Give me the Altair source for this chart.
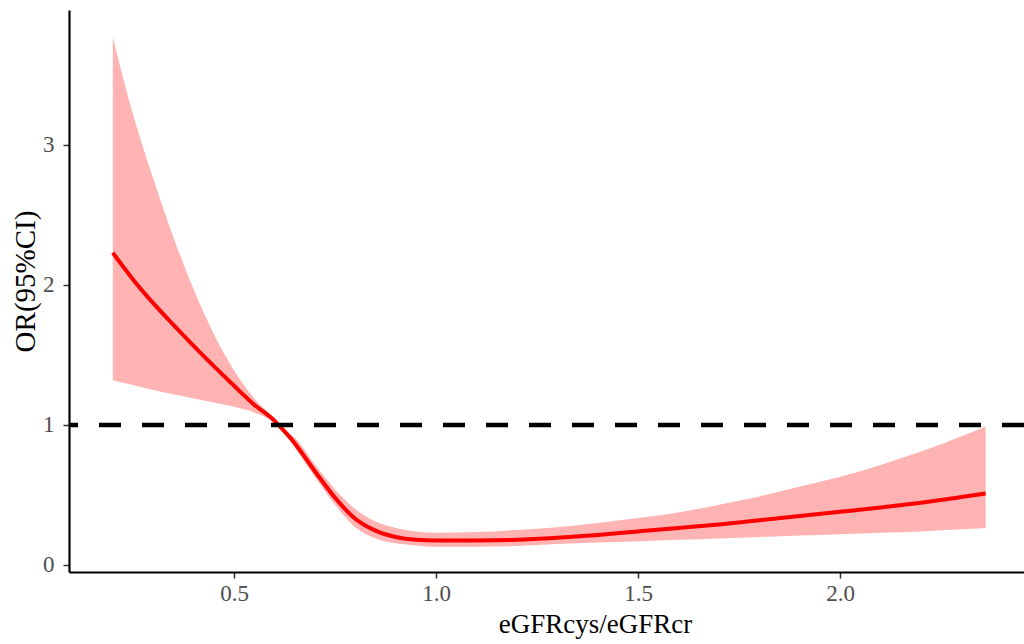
import altair as alt
import pandas as pd

# Values
ratio = [0.20, 0.25, 0.30, 0.35, 0.40, 0.45, 0.50, 0.55, 0.60, 0.61, 0.65, 0.70, 0.75,
         0.80, 0.85, 0.90, 0.95, 1.00, 1.10, 1.20, 1.30, 1.40, 1.50, 1.60, 1.70, 1.80,
         1.90, 2.00, 2.10, 2.20, 2.30, 2.36]
or_est = [2.23, 2.04, 1.87, 1.715, 1.565, 1.42, 1.28, 1.145, 1.03, 1.00, 0.87, 0.67, 0.48,
          0.33, 0.245, 0.20, 0.18, 0.175, 0.175, 0.18, 0.195, 0.215, 0.24, 0.265, 0.29, 0.32,
          0.35, 0.38, 0.41, 0.445, 0.485, 0.51]
or_upper = [3.77, 3.22, 2.76, 2.34, 1.97, 1.65, 1.39, 1.19, 1.04, 1.00, 0.91, 0.72, 0.54,
            0.40, 0.31, 0.265, 0.24, 0.23, 0.235, 0.25, 0.27, 0.30, 0.335, 0.375, 0.43, 0.49,
            0.56, 0.63, 0.715, 0.81, 0.92, 0.99]
or_lower = [1.32, 1.285, 1.25, 1.22, 1.19, 1.16, 1.13, 1.09, 1.02, 1.00, 0.84, 0.63, 0.43,
            0.27, 0.19, 0.155, 0.14, 0.13, 0.13, 0.135, 0.15, 0.16, 0.17, 0.18, 0.19, 0.20,
            0.21, 0.22, 0.23, 0.24, 0.255, 0.264]
ref_line = [1.0]
x_ticks = [0.5, 1.0, 1.5, 2.0]
y_ticks = [0, 1, 2, 3]

df = pd.DataFrame({"x": ratio, "y": or_est, "lo": or_lower, "hi": or_upper})
ref = pd.DataFrame({"y": ref_line})

FONT = "Liberation Serif"

xscale = alt.Scale(domain=[0.0916, 2.455], nice=False, zero=False)
yscale = alt.Scale(domain=[-0.05, 3.964], nice=False, zero=False)

xaxis = alt.Axis(values=x_ticks, format=".1f", title="eGFRcys/eGFRcr",
                 grid=False, domainColor="black", domainWidth=2.2,
                 tickColor="#333333", tickWidth=1.5, tickSize=6,
                 labelColor="#4d4d4d", labelFont=FONT, labelFontSize=23,
                 labelPadding=4, titleFont=FONT, titleFontSize=27,
                 titleFontWeight="normal", titleColor="black",
                 titleX=526, titleY=60, titleBaseline="alphabetic")
yaxis = alt.Axis(values=y_ticks, format="d", title="OR(95%CI)",
                 grid=False, domainColor="black", domainWidth=2.2,
                 tickColor="#333333", tickWidth=1.5, tickSize=6,
                 labelColor="#4d4d4d", labelFont=FONT, labelFontSize=23,
                 labelPadding=9, titleFont=FONT, titleFontSize=29,
                 titleFontWeight="normal", titleColor="black",
                 titleX=-44, titleY=271, titleBaseline="middle", titleAngle=270)

band = alt.Chart(df).mark_area(color="#ffb3b3", opacity=1, interpolate="monotone").encode(
    x=alt.X("x:Q", scale=xscale, axis=xaxis),
    y=alt.Y("lo:Q", scale=yscale, axis=yaxis),
    y2="hi:Q",
)

line = alt.Chart(df).mark_line(color="#ff0000", strokeWidth=4, interpolate="monotone").encode(
    x=alt.X("x:Q", scale=xscale),
    y=alt.Y("y:Q", scale=yscale),
)

hline = alt.Chart(ref).mark_rule(color="black", strokeWidth=4.5, strokeDash=[22, 21]).encode(
    y=alt.Y("y:Q", scale=yscale),
)

chart = alt.layer(band, line, hline).properties(
    width=955, height=562,
    autosize=alt.AutoSizeParams(type="none"),
    padding={"left": 69, "top": 10, "right": 0, "bottom": 72},
    background="white",
).configure_view(stroke=None)

chart.save("out.html", embed_options={"renderer": "svg", "actions": False})
